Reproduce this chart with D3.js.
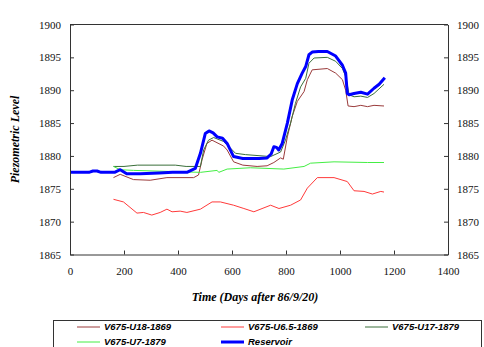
<!DOCTYPE html>
<html>
<head>
<meta charset="utf-8">
<script src="https://cdn.jsdelivr.net/npm/d3@7"></script>
<style>
  body { margin: 0; background: #fff; }
  svg { display: block; }
</style>
</head>
<body>
<script>
// Series (days after 86/9/20, piezometric level)
const u18Days = [161, 186, 235, 297, 359, 458, 476, 489, 507, 526, 569, 582, 606, 640, 693, 730, 755, 780, 790, 805, 823, 842, 867, 879, 897, 953, 984, 1009, 1021, 1030, 1052, 1077, 1102, 1126, 1163];
const u18Vals = [1876.7, 1877.2, 1876.4, 1876.3, 1876.7, 1876.7, 1877.1, 1879.4, 1881.9, 1882.4, 1881.5, 1880.9, 1879.1, 1878.6, 1878.4, 1878.5, 1879.0, 1879.7, 1879.5, 1882.9, 1886.0, 1888.3, 1889.8, 1891.6, 1893.1, 1893.3, 1892.6, 1891.6, 1890.0, 1887.6, 1887.5, 1887.7, 1887.5, 1887.7, 1887.6];

const u65Days = [161, 198, 248, 272, 303, 334, 359, 378, 408, 433, 483, 526, 557, 606, 644, 681, 743, 774, 817, 854, 879, 916, 978, 1027, 1052, 1089, 1120, 1151, 1163];
const u65Vals = [1873.4, 1873.0, 1871.3, 1871.4, 1871.0, 1871.4, 1871.9, 1871.5, 1871.6, 1871.4, 1871.9, 1873.0, 1873.0, 1872.5, 1872.0, 1871.5, 1872.5, 1872.0, 1872.5, 1873.3, 1875.1, 1876.7, 1876.7, 1876.1, 1874.7, 1874.6, 1874.2, 1874.6, 1874.5];

const u17Days = [161, 200, 250, 390, 430, 483, 495, 513, 532, 569, 594, 613, 650, 743, 780, 798, 817, 835, 854, 873, 885, 904, 953, 984, 1009, 1021, 1034, 1052, 1077, 1102, 1126, 1163];
const u17Vals = [1878.4, 1878.4, 1878.6, 1878.6, 1878.4, 1878.4, 1880.9, 1882.4, 1882.8, 1882.2, 1881.2, 1880.4, 1880.2, 1879.9, 1880.6, 1882.4, 1885.0, 1888.0, 1890.5, 1891.8, 1894.1, 1894.9, 1895.0, 1894.4, 1893.3, 1892.1, 1889.3, 1889.0, 1889.1, 1888.9, 1889.5, 1890.9];

const u7Days = [161, 186, 235, 483, 545, 551, 582, 668, 792, 867, 891, 978, 1102, 1163];
const u7Vals = [1878.4, 1877.9, 1877.8, 1877.5, 1877.8, 1877.5, 1878.0, 1878.2, 1878.0, 1878.4, 1878.9, 1879.1, 1879.0, 1879.0];

const resDays = [0, 70, 85, 100, 115, 165, 186, 210, 260, 330, 380, 433, 464, 483, 501, 515, 530, 545, 565, 582, 595, 606, 640, 700, 730, 745, 755, 765, 773, 786, 805, 823, 842, 860, 873, 885, 897, 920, 953, 984, 1009, 1021, 1027, 1034, 1052, 1077, 1102, 1126, 1145, 1166];
const resVals = [1877.5, 1877.5, 1877.7, 1877.7, 1877.5, 1877.5, 1877.9, 1877.3, 1877.3, 1877.4, 1877.5, 1877.5, 1878.1, 1880.4, 1883.4, 1883.8, 1883.5, 1882.9, 1882.7, 1881.9, 1880.8, 1879.9, 1879.6, 1879.6, 1879.7, 1880.3, 1881.4, 1881.3, 1880.9, 1881.9, 1885.0, 1888.5, 1891.0, 1892.6, 1893.6, 1895.4, 1895.8, 1895.9, 1895.9, 1895.2, 1893.8, 1892.6, 1889.5, 1889.3, 1889.5, 1889.7, 1889.4, 1890.3, 1890.9, 1891.9];

const seriesNames = ["V675-U18-1869", "V675-U6.5-1869", "V675-U17-1879", "V675-U7-1879", "Reservoir"];
const seriesColors = ["#9a3b3b", "#ff3a3a", "#3a6f3a", "#44ee44", "#0000ff"];
const seriesWidths = [1, 1, 1, 1, 3];

const xTicks = [0, 200, 400, 600, 800, 1000, 1200, 1400];
const yTicks = [1865, 1870, 1875, 1880, 1885, 1890, 1895, 1900];

const series = [
  [u18Days, u18Vals], [u65Days, u65Vals], [u17Days, u17Vals], [u7Days, u7Vals], [resDays, resVals]
].map(([d, v], i) => ({
  name: seriesNames[i], color: seriesColors[i], width: seriesWidths[i],
  points: d.map((day, j) => [day, v[j]])
}));

const width = 484, height = 347;
const plotLeft = 70, plotRight = 448, plotTop = 24.5, plotBottom = 254.5;

const svg = d3.select("body").append("svg")
  .attr("width", width)
  .attr("height", height);

const x = d3.scaleLinear().domain([0, 1400]).range([plotLeft, plotRight]);
const y = d3.scaleLinear().domain([1865, 1900]).range([plotBottom, plotTop]);

const serif = "'Liberation Serif', 'Times New Roman', serif";
const sans = "'Liberation Sans', Arial, sans-serif";

// Lines
const line = d3.line().x(d => x(d[0])).y(d => y(d[1]));
series.forEach(s => {
  svg.append("path")
    .attr("d", line(s.points))
    .attr("fill", "none")
    .attr("stroke", s.color)
    .attr("stroke-width", s.width)
    .attr("stroke-linejoin", "round");
});

// Axes (ticks point inward)
const fmt = d3.format("d");
const styleAxis = g => {
  g.attr("font-family", serif).attr("font-size", 11);
  g.select(".domain").attr("stroke", "#333");
  g.selectAll(".tick line").attr("stroke", "#333");
  g.selectAll(".tick text").attr("fill", "#111");
};

svg.append("g")
  .attr("transform", `translate(${plotLeft},0)`)
  .call(d3.axisLeft(y).tickValues(yTicks).tickFormat(fmt).tickSizeInner(-4).tickSizeOuter(0).tickPadding(9))
  .call(styleAxis);

svg.append("g")
  .attr("transform", `translate(${plotRight},0)`)
  .call(d3.axisRight(y).tickValues(yTicks).tickFormat(fmt).tickSizeInner(-4).tickSizeOuter(0).tickPadding(9))
  .call(styleAxis);

svg.append("g")
  .attr("transform", `translate(0,${plotBottom})`)
  .call(d3.axisBottom(x).tickValues(xTicks).tickFormat(fmt).tickSizeInner(-4).tickSizeOuter(0).tickPadding(13))
  .call(styleAxis);

// top border
svg.append("line")
  .attr("x1", plotLeft).attr("x2", plotRight)
  .attr("y1", plotTop).attr("y2", plotTop)
  .attr("stroke", "#333");

// Axis titles
svg.append("text")
  .attr("x", (plotLeft + plotRight) / 2 - 4)
  .attr("y", 301)
  .attr("text-anchor", "middle")
  .style("font-family", serif)
  .style("font-size", "12px")
  .style("font-weight", "bold")
  .style("font-style", "italic")
  .text("Time (Days after 86/9/20)");

svg.append("text")
  .attr("transform", `translate(19,${(plotTop + plotBottom) / 2}) rotate(-90)`)
  .attr("text-anchor", "middle")
  .style("font-family", serif)
  .style("font-size", "12px")
  .style("font-weight", "bold")
  .style("font-style", "italic")
  .text("Piezometric Level");

// Legend
const legend = svg.append("g");
legend.append("rect")
  .attr("x", 53.5).attr("y", 320.5)
  .attr("width", 428).attr("height", 40)
  .attr("fill", "none")
  .attr("stroke", "#333");

const legendCols = [77, 221, 365];
series.forEach((s, i) => {
  const lx = legendCols[i % 3];
  const ly = 327 + Math.floor(i / 3) * 15;
  legend.append("line")
    .attr("x1", lx).attr("x2", lx + 23)
    .attr("y1", ly).attr("y2", ly)
    .attr("stroke", s.color)
    .attr("stroke-width", s.width);
  legend.append("text")
    .attr("x", lx + 27).attr("y", ly)
    .attr("dy", "0.35em")
    .style("font-family", sans)
    .style("font-size", "9.5px")
    .style("font-weight", "bold")
    .style("font-style", "italic")
    .text(s.name);
});
</script>
</body>
</html>
